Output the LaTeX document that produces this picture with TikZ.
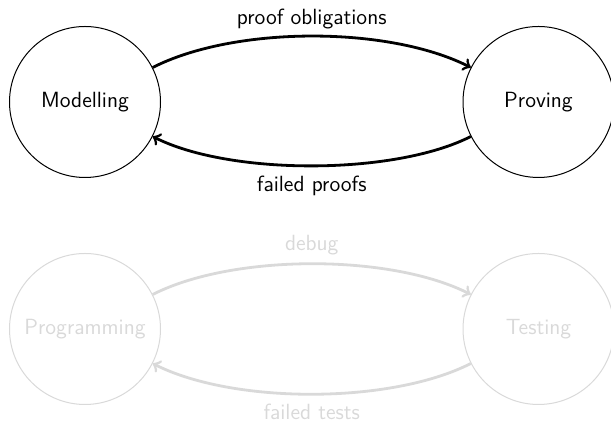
\documentclass[tikz,border=0pt]{standalone}
\usepackage{fontspec}
\usetikzlibrary{calc}
\begin{document}
\begin{tikzpicture}[x=0.5pt,y=0.5pt,
  state/.style={circle, draw, line width=0.5pt, minimum size=75.5pt, inner sep=0pt, font=\sffamily\fontsize{11}{13}\selectfont},
  flow/.style={->, line width=1.4pt},
  lbl/.style={font=\sffamily\fontsize{11}{13}\selectfont, anchor=base},
  faded/.style={draw=black!15, text=black!15}]
\useasboundingbox (0,0) rectangle (611,421);
\node[state] (M) at (85,319) {Modelling};
\node[state] (P) at (538.5,319) {Proving};
\node[state, faded] (G) at (85,92) {Programming};
\node[state, faded] (T) at (538.5,92) {Testing};
\draw[flow] (M.27) .. controls ($(M.27)+(27:92)$) and ($(P.153)+(153:92)$) .. (P.153)
  node[lbl, midway, yshift=6pt] {proof obligations};
\draw[flow] (P.207) .. controls ($(P.207)+(207:86)$) and ($(M.333)+(333:86)$) .. (M.333)
  node[lbl, midway, yshift=-13pt] {failed proofs};
\draw[flow, draw=black!15] (G.27) .. controls ($(G.27)+(27:90)$) and ($(T.153)+(153:90)$) .. (T.153)
  node[lbl, midway, yshift=6.6pt, text=black!15] {debug};
\draw[flow, draw=black!15] (T.207) .. controls ($(T.207)+(207:90)$) and ($(G.333)+(333:90)$) .. (G.333)
  node[lbl, midway, yshift=-12.5pt, text=black!15] {failed tests};
\end{tikzpicture}
\end{document}
